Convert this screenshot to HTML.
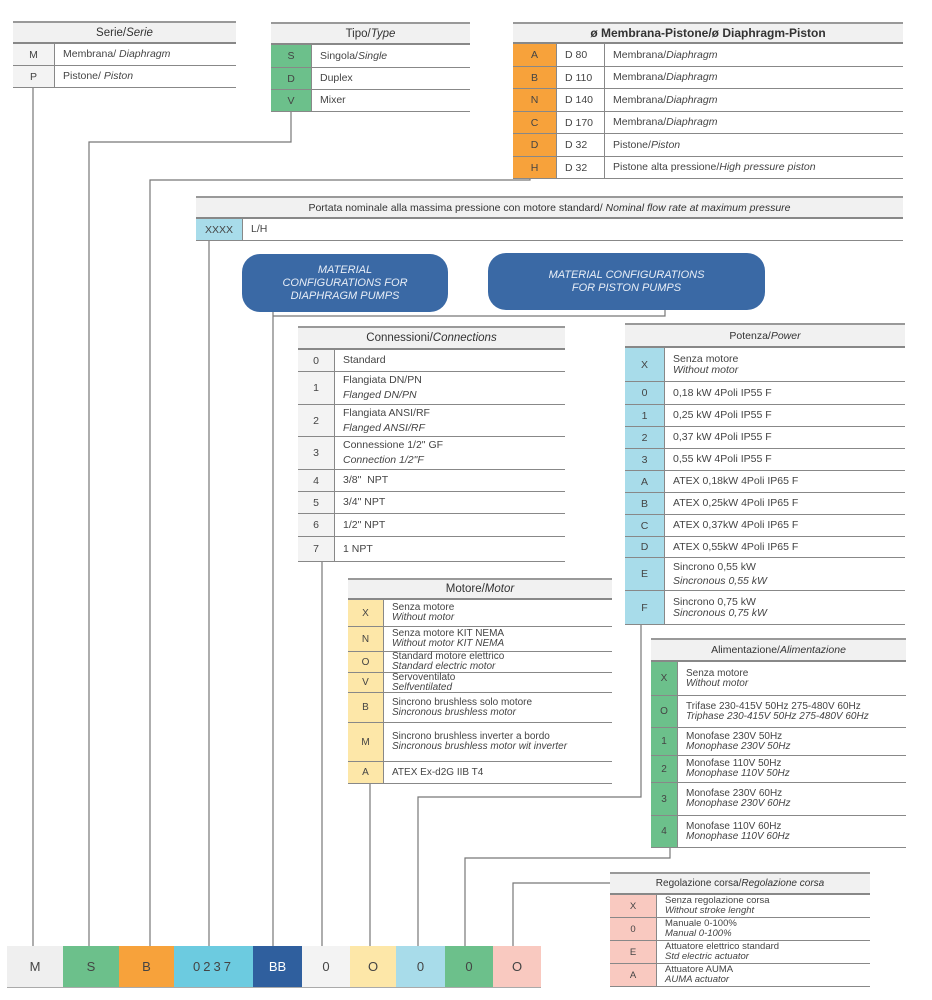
<!DOCTYPE html>
<html><head><meta charset="utf-8"><style>
*{box-sizing:border-box;margin:0;padding:0}
body{width:932px;height:1000px;background:#fff;position:relative;font-family:"Liberation Sans",sans-serif;color:#444;font-size:10.5px;overflow:hidden}
.t{position:absolute}
.h{background:#f1f1f1;border-top:2px solid #999;border-bottom:2px solid #888;text-align:center;display:flex;align-items:center;justify-content:center;font-size:11.5px;color:#333}
.r{display:flex;border-bottom:1.5px solid #888;align-items:stretch}
.c{display:flex;align-items:center;justify-content:center;border-right:1px solid #888;flex:none}
.x{display:flex;flex-direction:column;justify-content:center;padding-left:8px;line-height:11px}
.d{display:flex;align-items:center;padding-left:8px;border-right:1px solid #888;flex:none}
i{font-style:italic}
.pill{position:absolute;background:#3a69a5;border-radius:18px;color:#e8eef7;font-style:italic;text-align:center;display:flex;align-items:center;justify-content:center;font-size:11px;line-height:13px}
.b{position:absolute;top:946px;height:42px;display:flex;align-items:center;justify-content:center;font-size:13px;color:#444;border-bottom:1px solid #aaa}
</style></head><body>
<svg width="932" height="1000" style="position:absolute;left:0;top:0" fill="none" stroke="#777" stroke-width="1.2">
<polyline points="33,88 33,946"/>
<polyline points="291,112 291,142 89,142 89,946"/>
<polyline points="530,179 530,180 150,180 150,946"/>
<polyline points="209,241 209,946"/>
<polyline points="273,312 273,946"/>
<polyline points="273,316 665,316 665,310"/>
<polyline points="322,562 322,946"/>
<polyline points="370,784 370,946"/>
<polyline points="641,624 641,797 418,797 418,946"/>
<polyline points="670,848 670,858 465,858 465,946"/>
<polyline points="610,883 513,883 513,946"/>
</svg>

<!-- Serie -->
<div class="t" style="left:13px;top:21px;width:223px">
<div class="h" style="height:23px"><span>Serie/<i>Serie</i></span></div>
<div class="r" style="height:22px"><div class="c" style="width:42px;background:#f3f3f3">M</div><div class="x"><span>Membrana/ <i>Diaphragm</i></span></div></div>
<div class="r" style="height:22px"><div class="c" style="width:42px;background:#f3f3f3">P</div><div class="x"><span>Pistone/ <i>Piston</i></span></div></div>
</div>

<!-- Tipo -->
<div class="t" style="left:271px;top:22px;width:199px">
<div class="h" style="height:23px"><span>Tipo/<i>Type</i></span></div>
<div class="r" style="height:23px"><div class="c" style="width:41px;background:#6cc08b">S</div><div class="x"><span>Singola/<i>Single</i></span></div></div>
<div class="r" style="height:22px"><div class="c" style="width:41px;background:#6cc08b">D</div><div class="x"><span>Duplex</span></div></div>
<div class="r" style="height:22px"><div class="c" style="width:41px;background:#6cc08b">V</div><div class="x"><span>Mixer</span></div></div>
</div>

<!-- Diametro -->
<div class="t" style="left:513px;top:22px;width:390px">
<div class="h" style="height:22px;font-size:12px;font-weight:bold;color:#333"><span>ø Membrana-Pistone/ø Diaphragm-Piston</span></div>
<div class="r" style="height:23px"><div class="c" style="width:44px;background:#f7a23b">A</div><div class="d" style="width:48px">D 80</div><div class="x"><span>Membrana/<i>Diaphragm</i></span></div></div>
<div class="r" style="height:22px"><div class="c" style="width:44px;background:#f7a23b">B</div><div class="d" style="width:48px">D 110</div><div class="x"><span>Membrana/<i>Diaphragm</i></span></div></div>
<div class="r" style="height:23px"><div class="c" style="width:44px;background:#f7a23b">N</div><div class="d" style="width:48px">D 140</div><div class="x"><span>Membrana/<i>Diaphragm</i></span></div></div>
<div class="r" style="height:22px"><div class="c" style="width:44px;background:#f7a23b">C</div><div class="d" style="width:48px">D 170</div><div class="x"><span>Membrana/<i>Diaphragm</i></span></div></div>
<div class="r" style="height:23px"><div class="c" style="width:44px;background:#f7a23b">D</div><div class="d" style="width:48px">D 32</div><div class="x"><span>Pistone/<i>Piston</i></span></div></div>
<div class="r" style="height:22px"><div class="c" style="width:44px;background:#f7a23b">H</div><div class="d" style="width:48px">D 32</div><div class="x"><span>Pistone alta pressione/<i>High pressure piston</i></span></div></div>
</div>

<!-- Portata -->
<div class="t" style="left:196px;top:196px;width:707px">
<div class="h" style="height:23px;font-size:10.5px"><span>Portata nominale alla massima pressione con motore standard/ <i>Nominal flow rate at maximum pressure</i></span></div>
<div class="r" style="height:22px"><div class="c" style="width:47px;background:#a8dcea">XXXX</div><div class="x"><span>L/H</span></div></div>
</div>

<div class="pill" style="left:242px;top:254px;width:206px;height:58px">MATERIAL<br>CONFIGURATIONS FOR<br>DIAPHRAGM PUMPS</div>
<div class="pill" style="left:488px;top:253px;width:277px;height:57px">MATERIAL CONFIGURATIONS<br>FOR PISTON PUMPS</div>

<!-- Connessioni -->
<div class="t" style="left:298px;top:326px;width:267px">
<div class="h" style="height:24px"><span>Connessioni/<i>Connections</i></span></div>
<div class="r" style="height:22px"><div class="c" style="width:37px;background:#f3f3f3">0</div><div class="x">Standard</div></div>
<div class="r" style="height:33px"><div class="c" style="width:37px;background:#f3f3f3">1</div><div class="x" style="line-height:15px">Flangiata DN/PN<i>Flanged DN/PN</i></div></div>
<div class="r" style="height:32px"><div class="c" style="width:37px;background:#f3f3f3">2</div><div class="x" style="line-height:15px">Flangiata ANSI/RF<i>Flanged ANSI/RF</i></div></div>
<div class="r" style="height:33px"><div class="c" style="width:37px;background:#f3f3f3">3</div><div class="x" style="line-height:15px">Connessione 1/2" GF<i>Connection 1/2"F</i></div></div>
<div class="r" style="height:22px"><div class="c" style="width:37px;background:#f3f3f3">4</div><div class="x">3/8"&nbsp; NPT</div></div>
<div class="r" style="height:22px"><div class="c" style="width:37px;background:#f3f3f3">5</div><div class="x">3/4" NPT</div></div>
<div class="r" style="height:23px"><div class="c" style="width:37px;background:#f3f3f3">6</div><div class="x">1/2" NPT</div></div>
<div class="r" style="height:25px"><div class="c" style="width:37px;background:#f3f3f3">7</div><div class="x">1 NPT</div></div>
</div>

<!-- Motore -->
<div class="t" style="left:348px;top:578px;width:264px;font-size:10px">
<div class="h" style="height:22px"><span>Motore/<i>Motor</i></span></div>
<div class="r" style="height:27px"><div class="c" style="width:36px;background:#fde7a8">X</div><div class="x" style="line-height:10px">Senza motore<i>Without motor</i></div></div>
<div class="r" style="height:25px"><div class="c" style="width:36px;background:#fde7a8">N</div><div class="x" style="line-height:10px">Senza motore KIT NEMA<i>Without motor KIT NEMA</i></div></div>
<div class="r" style="height:21px"><div class="c" style="width:36px;background:#fde7a8">O</div><div class="x" style="line-height:10px">Standard motore elettrico<i>Standard electric motor</i></div></div>
<div class="r" style="height:20px"><div class="c" style="width:36px;background:#fde7a8">V</div><div class="x" style="line-height:10px">Servoventilato<i>Selfventilated</i></div></div>
<div class="r" style="height:30px"><div class="c" style="width:36px;background:#fde7a8">B</div><div class="x" style="line-height:10px">Sincrono brushless solo motore<i>Sincronous brushless motor</i></div></div>
<div class="r" style="height:39px"><div class="c" style="width:36px;background:#fde7a8">M</div><div class="x" style="line-height:10px">Sincrono brushless inverter a bordo<i>Sincronous brushless motor wit inverter</i></div></div>
<div class="r" style="height:22px"><div class="c" style="width:36px;background:#fde7a8">A</div><div class="x">ATEX Ex-d2G IIB T4</div></div>
</div>

<!-- Potenza -->
<div class="t" style="left:625px;top:323px;width:280px">
<div class="h" style="height:25px;font-size:10.5px"><span>Potenza/<i>Power</i></span></div>
<div class="r" style="height:34px"><div class="c" style="width:40px;background:#a8dcea">X</div><div class="x">Senza motore<i>Without motor</i></div></div>
<div class="r" style="height:23px"><div class="c" style="width:40px;background:#a8dcea">0</div><div class="x">0,18 kW 4Poli IP55 F</div></div>
<div class="r" style="height:22px"><div class="c" style="width:40px;background:#a8dcea">1</div><div class="x">0,25 kW 4Poli IP55 F</div></div>
<div class="r" style="height:22px"><div class="c" style="width:40px;background:#a8dcea">2</div><div class="x">0,37 kW 4Poli IP55 F</div></div>
<div class="r" style="height:22px"><div class="c" style="width:40px;background:#a8dcea">3</div><div class="x">0,55 kW 4Poli IP55 F</div></div>
<div class="r" style="height:22px"><div class="c" style="width:40px;background:#a8dcea">A</div><div class="x">ATEX 0,18kW 4Poli IP65 F</div></div>
<div class="r" style="height:22px"><div class="c" style="width:40px;background:#a8dcea">B</div><div class="x">ATEX 0,25kW 4Poli IP65 F</div></div>
<div class="r" style="height:22px"><div class="c" style="width:40px;background:#a8dcea">C</div><div class="x">ATEX 0,37kW 4Poli IP65 F</div></div>
<div class="r" style="height:21px"><div class="c" style="width:40px;background:#a8dcea">D</div><div class="x">ATEX 0,55kW 4Poli IP65 F</div></div>
<div class="r" style="height:33px"><div class="c" style="width:40px;background:#a8dcea">E</div><div class="x" style="line-height:14px">Sincrono 0,55 kW<i>Sincronous 0,55 kW</i></div></div>
<div class="r" style="height:34px"><div class="c" style="width:40px;background:#a8dcea">F</div><div class="x">Sincrono 0,75 kW<i>Sincronous 0,75 kW</i></div></div>
</div>

<!-- Alimentazione -->
<div class="t" style="left:651px;top:638px;width:255px;font-size:10px">
<div class="h" style="height:24px;font-size:10.5px"><span>Alimentazione/<i>Alimentazione</i></span></div>
<div class="r" style="height:34px"><div class="c" style="width:27px;background:#6cc08b">X</div><div class="x" style="line-height:10px">Senza motore<i>Without motor</i></div></div>
<div class="r" style="height:32px"><div class="c" style="width:27px;background:#6cc08b">O</div><div class="x" style="line-height:10px">Trifase 230-415V 50Hz 275-480V 60Hz<i>Triphase 230-415V 50Hz 275-480V 60Hz</i></div></div>
<div class="r" style="height:28px"><div class="c" style="width:27px;background:#6cc08b">1</div><div class="x" style="line-height:10px">Monofase 230V 50Hz<i>Monophase 230V 50Hz</i></div></div>
<div class="r" style="height:27px"><div class="c" style="width:27px;background:#6cc08b">2</div><div class="x" style="line-height:10px">Monofase 110V 50Hz<i>Monophase 110V 50Hz</i></div></div>
<div class="r" style="height:33px"><div class="c" style="width:27px;background:#6cc08b">3</div><div class="x" style="line-height:10px">Monofase 230V 60Hz<i>Monophase 230V 60Hz</i></div></div>
<div class="r" style="height:32px"><div class="c" style="width:27px;background:#6cc08b">4</div><div class="x" style="line-height:10px">Monofase 110V 60Hz<i>Monophase 110V 60Hz</i></div></div>
</div>

<!-- Regolazione -->
<div class="t" style="left:610px;top:872px;width:260px;font-size:9.5px">
<div class="h" style="height:23px;font-size:10px"><span>Regolazione corsa/<i>Regolazione corsa</i></span></div>
<div class="r" style="height:23px"><div class="c" style="width:47px;background:#f9c9c0">X</div><div class="x" style="line-height:10px">Senza regolazione corsa<i>Without stroke lenght</i></div></div>
<div class="r" style="height:23px"><div class="c" style="width:47px;background:#f9c9c0">0</div><div class="x" style="line-height:10px">Manuale 0-100%<i>Manual 0-100%</i></div></div>
<div class="r" style="height:23px"><div class="c" style="width:47px;background:#f9c9c0">E</div><div class="x" style="line-height:10px">Attuatore elettrico standard<i>Std electric actuator</i></div></div>
<div class="r" style="height:23px"><div class="c" style="width:47px;background:#f9c9c0">A</div><div class="x" style="line-height:10px">Attuatore AUMA<i>AUMA actuator</i></div></div>
</div>

<!-- bottom code -->
<div class="b" style="left:7px;width:56px;background:#efefef">M</div>
<div class="b" style="left:63px;width:56px;background:#6cc08b">S</div>
<div class="b" style="left:119px;width:55px;background:#f7a23b">B</div>
<div class="b" style="left:174px;width:79px;background:#6ccbe0;letter-spacing:3px">0237</div>
<div class="b" style="left:253px;width:49px;background:#2f5f9e;color:#fff">BB</div>
<div class="b" style="left:302px;width:48px;background:#f3f3f3">0</div>
<div class="b" style="left:350px;width:46px;background:#fde7a8">O</div>
<div class="b" style="left:396px;width:49px;background:#a8dcea">0</div>
<div class="b" style="left:445px;width:48px;background:#6cc08b">0</div>
<div class="b" style="left:493px;width:48px;background:#f9c9c0">O</div>
</body></html>
